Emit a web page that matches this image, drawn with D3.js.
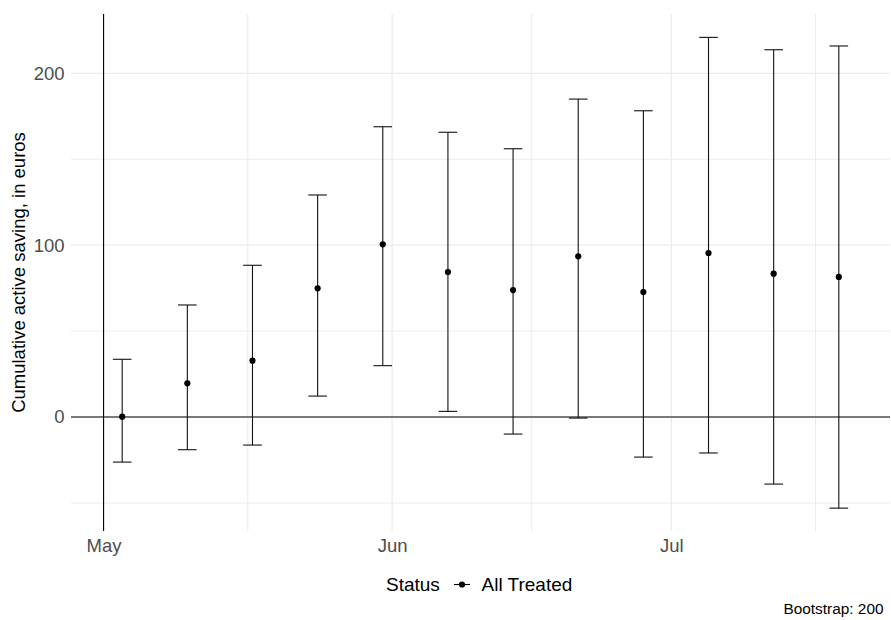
<!DOCTYPE html>
<html>
<head>
<meta charset="utf-8">
<script src="https://cdn.jsdelivr.net/npm/d3@7"></script>
<style>
  body { margin: 0; background: #fff; }
  svg { display: block; font-family: "Liberation Sans", Arial, sans-serif; }
</style>
</head>
<body>
<svg id="chart" width="891" height="620"></svg>
<script>
// ---- data ----
const dates = ["2021-05-03","2021-05-10","2021-05-17","2021-05-24","2021-05-31","2021-06-07",
               "2021-06-14","2021-06-21","2021-06-28","2021-07-05","2021-07-12","2021-07-19"];
const estimates = [0.2, 19.6, 32.8, 74.9, 100.5, 84.4, 73.9, 93.5, 72.7, 95.4, 83.4, 81.5];
const upper = [33.6, 65.2, 88.3, 129.2, 168.9, 165.7, 156.1, 185.0, 178.2, 220.9, 213.7, 215.9];
const lower = [-26.2, -19.0, -16.3, 12.2, 29.9, 3.3, -9.9, -0.6, -23.3, -20.9, -39.0, -53.0];
const xTickDates = ["2021-05-01","2021-06-01","2021-07-01"];
const xMinorDates = ["2021-05-16T12:00","2021-06-16","2021-07-16T12:00"];
const yTicks = [0, 100, 200];
const yMinor = [-50, 50, 150];
const vlineDate = "2021-05-01";
const seriesName = "All Treated";
const legendTitle = "Status";
const yTitle = "Cumulative active saving, in euros";
const caption = "Bootstrap: 200";

const parse = s => new Date(s.length > 10 ? s + "Z" : s + "T00:00Z");
const DAY = 86400000;

const svg = d3.select("#chart");
const panel = {left: 71, right: 890, top: 14, bottom: 531};

const x = d3.scaleUtc()
  .domain([parse("2021-04-27T12:00"), parse("2021-07-24T12:00")])
  .range([panel.left, panel.right]);
const y = d3.scaleLinear().domain([-66.3, 234.5]).range([panel.bottom, panel.top]);

const grid = svg.append("g");
// minor gridlines
grid.selectAll(".ymin").data(yMinor).join("line")
  .attr("x1", panel.left).attr("x2", panel.right)
  .attr("y1", d => y(d)).attr("y2", d => y(d))
  .attr("stroke", "#EBEBEB").attr("stroke-width", 1);
grid.selectAll(".xmin").data(xMinorDates).join("line")
  .attr("x1", d => x(parse(d))).attr("x2", d => x(parse(d)))
  .attr("y1", panel.top).attr("y2", panel.bottom)
  .attr("stroke", "#EBEBEB").attr("stroke-width", 1);
// major gridlines
grid.selectAll(".ymaj").data(yTicks).join("line")
  .attr("x1", panel.left).attr("x2", panel.right)
  .attr("y1", d => y(d)).attr("y2", d => y(d))
  .attr("stroke", "#EBEBEB").attr("stroke-width", 1.2);
grid.selectAll(".xmaj").data(xTickDates).join("line")
  .attr("x1", d => x(parse(d))).attr("x2", d => x(parse(d)))
  .attr("y1", panel.top).attr("y2", panel.bottom)
  .attr("stroke", "#EBEBEB").attr("stroke-width", 1.2);

// reference lines
svg.append("line")
  .attr("x1", panel.left).attr("x2", panel.right)
  .attr("y1", y(0)).attr("y2", y(0))
  .attr("stroke", "#000").attr("stroke-width", 1.1);
svg.append("line")
  .attr("x1", x(parse(vlineDate))).attr("x2", x(parse(vlineDate)))
  .attr("y1", panel.top).attr("y2", panel.bottom)
  .attr("stroke", "#000").attr("stroke-width", 1.1);

// error bars
const data = dates.map((d, i) => ({date: parse(d), est: estimates[i], lo: lower[i], hi: upper[i]}));
const eb = svg.append("g").selectAll("g").data(data).join("g");
eb.append("line")
  .attr("x1", d => x(d.date)).attr("x2", d => x(d.date))
  .attr("y1", d => y(d.lo)).attr("y2", d => y(d.hi))
  .attr("stroke", "#111").attr("stroke-width", 1.1);
eb.append("line")
  .attr("x1", d => x(new Date(+d.date - DAY))).attr("x2", d => x(new Date(+d.date + DAY)))
  .attr("y1", d => y(d.hi)).attr("y2", d => y(d.hi))
  .attr("stroke", "#111").attr("stroke-width", 1.1);
eb.append("line")
  .attr("x1", d => x(new Date(+d.date - DAY))).attr("x2", d => x(new Date(+d.date + DAY)))
  .attr("y1", d => y(d.lo)).attr("y2", d => y(d.lo))
  .attr("stroke", "#111").attr("stroke-width", 1.1);
eb.append("circle")
  .attr("cx", d => x(d.date)).attr("cy", d => y(d.est)).attr("r", 3.1)
  .attr("fill", "#000");

// axes (text only)
const yAxis = svg.append("g").attr("transform", `translate(${panel.left},0)`)
  .call(d3.axisLeft(y).tickValues(yTicks).tickSize(0).tickPadding(6.5));
yAxis.select(".domain").remove();
yAxis.selectAll("text").attr("fill", "#4D4D4D").attr("font-size", 18.5)
  .style("font-family", "Liberation Sans, Arial, sans-serif");

const xAxis = svg.append("g").attr("transform", `translate(0,${panel.bottom})`)
  .call(d3.axisBottom(x).tickValues(xTickDates.map(parse)).tickFormat(d3.utcFormat("%b")).tickSize(0));
xAxis.select(".domain").remove();
xAxis.selectAll("text").attr("fill", "#4D4D4D").attr("font-size", 18.5)
  .attr("y", 20.5).attr("dy", 0)
  .style("font-family", "Liberation Sans, Arial, sans-serif");

// y title
svg.append("text")
  .attr("transform", `translate(24.5,${(panel.top + panel.bottom) / 2}) rotate(-90)`)
  .attr("text-anchor", "middle").attr("font-size", 18.5).attr("fill", "#000")
  .text(yTitle);

// legend
const lg = svg.append("g");
lg.append("text").attr("x", 386).attr("y", 591).attr("font-size", 19).attr("fill", "#000").text(legendTitle);
lg.append("line").attr("x1", 454).attr("x2", 470).attr("y1", 584.5).attr("y2", 584.5)
  .attr("stroke", "#000").attr("stroke-width", 1.1);
lg.append("circle").attr("cx", 462).attr("cy", 584.5).attr("r", 3.1).attr("fill", "#000");
lg.append("text").attr("x", 481.5).attr("y", 591).attr("font-size", 19).attr("fill", "#000").text(seriesName);

// caption
svg.append("text").attr("x", 883.5).attr("y", 614).attr("text-anchor", "end")
  .attr("font-size", 15.4).attr("fill", "#000").text(caption);
</script>
</body>
</html>
